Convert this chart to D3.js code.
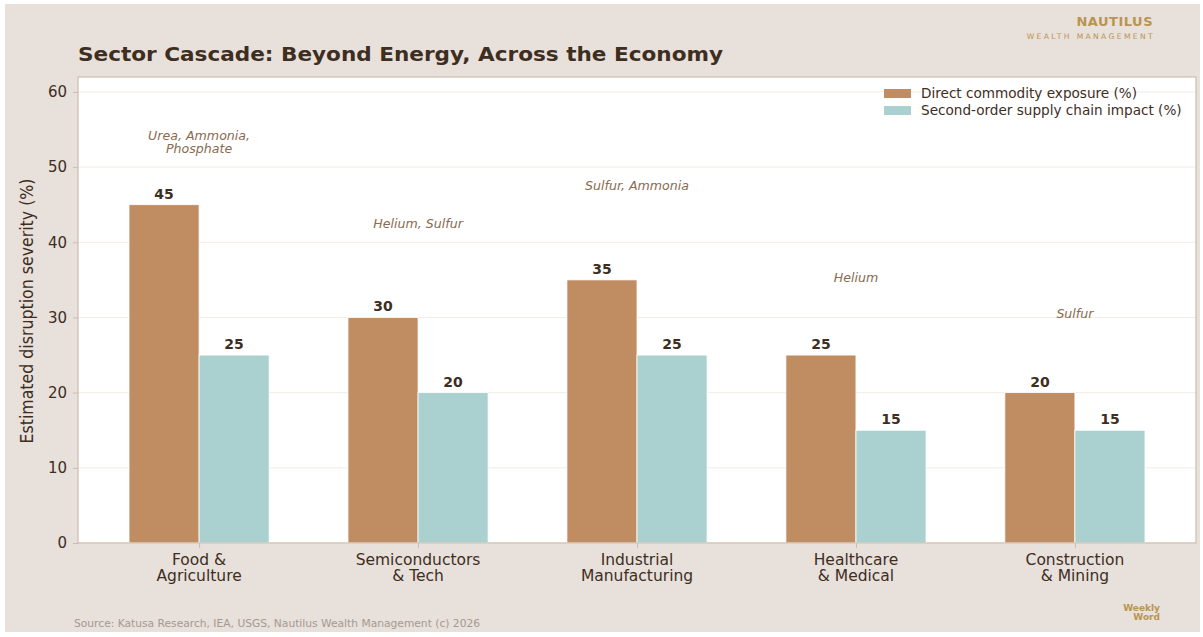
<!DOCTYPE html>
<html><head><meta charset="utf-8">
<script src="https://cdn.jsdelivr.net/npm/d3@7"></script>
<style>body{margin:0;background:#fff}svg{display:block}text{font-family:"DejaVu Sans",sans-serif}</style>
</head><body><svg id="c" width="1203" height="637"></svg>
<script>
const categories = [["Food &","Agriculture"],["Semiconductors","& Tech"],["Industrial","Manufacturing"],["Healthcare","& Medical"],["Construction","& Mining"]];
const directValues = [45, 30, 35, 25, 20];
const secondValues = [25, 20, 25, 15, 15];
const commodityNotes = [["Urea, Ammonia,","Phosphate"],["Helium, Sulfur"],["Sulfur, Ammonia"],["Helium"],["Sulfur"]];
const noteLevels = [53.3, 42.5, 47.5, 35.3, 30.5];
const yTicks = [0, 10, 20, 30, 40, 50, 60];
const seriesNames = ["Direct commodity exposure (%)", "Second-order supply chain impact (%)"];

const svg = d3.select("#c");
const dark = "#3d2e1f", brown = "#c08c62", teal = "#aad1d0", gold = "#b8954f", frame = "#cdbcae";
svg.append("rect").attr("x",5).attr("y",4).attr("width",1195).attr("height",628).attr("fill","#e8e0da");

const L = 78, R = 1196, T = 77, B = 543;
const x = d3.scaleLinear().domain([-0.553, 4.553]).range([L, R]);
const y = d3.scaleLinear().domain([0, 62]).range([B, B - 62*7.518]);
const bw = x(0.32) - x(0);

svg.append("rect").attr("x",L).attr("y",T).attr("width",R-L).attr("height",B-T).attr("fill","#fff");
svg.append("g").selectAll("line").data(yTicks).join("line")
  .attr("x1",L).attr("x2",R).attr("y1",d=>y(d)).attr("y2",d=>y(d))
  .attr("stroke","#f1ece7").attr("stroke-width",1);

const idx = d3.range(categories.length);
svg.append("g").selectAll("rect").data(idx).join("rect")
  .attr("x",i=>x(i)-bw).attr("width",bw).attr("y",i=>y(directValues[i])).attr("height",i=>y(0)-y(directValues[i]))
  .attr("fill",brown).attr("stroke","#fff").attr("stroke-width",0.8);
svg.append("g").selectAll("rect").data(idx).join("rect")
  .attr("x",i=>x(i)).attr("width",bw).attr("y",i=>y(secondValues[i])).attr("height",i=>y(0)-y(secondValues[i]))
  .attr("fill",teal).attr("stroke","#fff").attr("stroke-width",0.8);

const vl = svg.append("g").attr("font-size",14).attr("font-weight","bold").attr("fill",dark).attr("text-anchor","middle");
idx.forEach(i=>{
  vl.append("text").attr("x",x(i)-bw/2).attr("y",y(directValues[i])-6).text(directValues[i]);
  vl.append("text").attr("x",x(i)+bw/2).attr("y",y(secondValues[i])-6).text(secondValues[i]);
});

const nt = svg.append("g").attr("font-size",12.6).attr("font-style","italic").attr("fill","#8a6a50").attr("text-anchor","middle");
idx.forEach(i=>{
  const lines = commodityNotes[i];
  const t = nt.append("text").attr("x",x(i)).attr("y",y(noteLevels[i]) - (lines.length-1)*6.5 + 4.5);
  lines.forEach((s,k)=>t.append("tspan").attr("x",x(i)).attr("dy",k?13:0).text(s));
});

svg.append("rect").attr("x",L).attr("y",T).attr("width",R-L).attr("height",B-T).attr("fill","none").attr("stroke",frame).attr("stroke-width",1.2);

const ya = svg.append("g").attr("transform",`translate(${L},0)`).call(d3.axisLeft(y).tickValues(yTicks).tickSize(5).tickPadding(6));
ya.select(".domain").remove();
ya.selectAll("line").attr("stroke",frame);
ya.selectAll("text").attr("font-size",15).attr("fill",dark).attr("font-family","DejaVu Sans");

const xa = svg.append("g").attr("transform",`translate(0,${B})`).call(d3.axisBottom(x).tickValues(idx).tickSize(5).tickFormat(""));
xa.select(".domain").remove();
xa.selectAll("line").attr("stroke",frame);
const xl = svg.append("g").attr("font-size",15.5).attr("fill",dark).attr("text-anchor","middle");
idx.forEach(i=>{
  const t = xl.append("text").attr("x",x(i)).attr("y",B+22);
  categories[i].forEach((s,k)=>t.append("tspan").attr("x",x(i)).attr("dy",k?16:0).text(s));
});

svg.append("text").attr("transform","translate(33,311) rotate(-90)").attr("text-anchor","middle")
  .attr("font-size",17).attr("fill",dark).attr("textLength",265).attr("lengthAdjust","spacingAndGlyphs")
  .text("Estimated disruption severity (%)");

const lg = svg.append("g");
[brown, teal].forEach((c,k)=>{
  lg.append("rect").attr("x",884).attr("y",89+k*17).attr("width",27).attr("height",9).attr("fill",c);
  lg.append("text").attr("x",921).attr("y",98+k*17).attr("font-size",13.6).attr("fill",dark).text(seriesNames[k]);
});

svg.append("text").attr("x",78).attr("y",61).attr("font-size",20).attr("font-weight","bold").attr("fill",dark)
  .attr("textLength",645).attr("lengthAdjust","spacingAndGlyphs")
  .text("Sector Cascade: Beyond Energy, Across the Economy");

svg.append("text").attr("x",1153).attr("y",26).attr("text-anchor","end").attr("font-size",13).attr("font-weight","bold").attr("fill",gold).attr("letter-spacing",0.5).text("NAUTILUS");
svg.append("text").attr("x",1155).attr("y",39).attr("text-anchor","end").attr("font-size",7.6).attr("fill",gold).attr("letter-spacing",2.35).text("WEALTH MANAGEMENT");
svg.append("text").attr("x",74).attr("y",627).attr("font-size",10.7).attr("fill","#a39a92").text("Source: Katusa Research, IEA, USGS, Nautilus Wealth Management (c) 2026");
const ww = svg.append("g").attr("text-anchor","end").attr("font-size",9).attr("font-weight","bold").attr("fill",gold);
ww.append("text").attr("x",1160).attr("y",611).text("Weekly");
ww.append("text").attr("x",1160).attr("y",620).text("Word");
</script></body></html>
